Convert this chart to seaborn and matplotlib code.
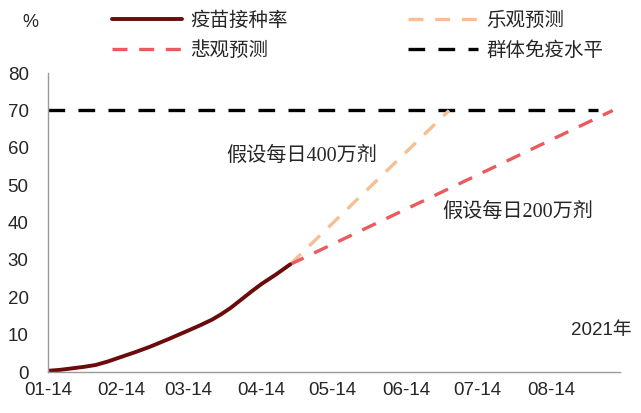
import pandas as pd
import matplotlib
matplotlib.use("Agg")
import matplotlib.pyplot as plt
import matplotlib.dates as mdates
import seaborn as sns

sns.set_style("white")
plt.rcParams['font.family'] = ['Liberation Sans', 'Noto Sans CJK SC', 'DejaVu Sans']

# 实际接种率 (%)
actual_dates = ["2021-01-14", "2021-01-19", "2021-01-24", "2021-01-29", "2021-02-03",
                "2021-02-08", "2021-02-14", "2021-02-20", "2021-02-26", "2021-03-06",
                "2021-03-14", "2021-03-19", "2021-03-24", "2021-03-28", "2021-04-01",
                "2021-04-05", "2021-04-10", "2021-04-14", "2021-04-20", "2021-04-26"]
actual_vals = [0.35, 0.6, 1.0, 1.4, 1.9,
               2.8, 4.1, 5.4, 6.8, 8.9,
               11.1, 12.5, 14.0, 15.5, 17.2,
               19.2, 21.7, 23.6, 26.1, 28.8]

# 预测
opt_dates = ["2021-04-26", "2021-07-02"]
opt_vals = [28.8, 70]
pes_dates = ["2021-04-26", "2021-09-09"]
pes_vals = [28.8, 70]
herd_dates = ["2021-01-14", "2021-09-03"]
herd_vals = [70, 70]

df_actual = pd.DataFrame({"date": pd.to_datetime(actual_dates), "rate": actual_vals})
df_opt = pd.DataFrame({"date": pd.to_datetime(opt_dates), "rate": opt_vals})
df_pes = pd.DataFrame({"date": pd.to_datetime(pes_dates), "rate": pes_vals})
df_herd = pd.DataFrame({"date": pd.to_datetime(herd_dates), "rate": herd_vals})

fig = plt.figure(figsize=(6.41, 4.13), dpi=100)
ax = fig.add_axes([0.075, 0.099, 0.892, 0.724])

sns.lineplot(data=df_herd, x="date", y="rate", ax=ax, color="black", linewidth=2.4,
             linestyle=(0, (5, 4)), label="群体免疫水平")
sns.lineplot(data=df_opt, x="date", y="rate", ax=ax, color="#f5bf93", linewidth=2.4,
             linestyle=(0, (4.5, 3.5)), label="乐观预测")
sns.lineplot(data=df_pes, x="date", y="rate", ax=ax, color="#ea5a5e", linewidth=2.4,
             linestyle=(0, (4.5, 3.5)), label="悲观预测")
sns.lineplot(data=df_actual, x="date", y="rate", ax=ax, color="#6b0b0b", linewidth=2.8,
             label="疫苗接种率")

ax.set_xlim(pd.Timestamp("2021-01-14"), pd.Timestamp("2021-09-12"))
ax.set_ylim(0, 80)
ax.set_yticks(range(0, 81, 10))
ax.xaxis.set_major_locator(mdates.MonthLocator(bymonthday=14))
ax.xaxis.set_major_formatter(mdates.DateFormatter("%m-%d"))
ax.set_xlabel("")
ax.set_ylabel("")

for s in ["top", "right"]:
    ax.spines[s].set_visible(False)
for s in ["left", "bottom"]:
    ax.spines[s].set_color("#9a9a9a")
    ax.spines[s].set_linewidth(1.0)
ax.tick_params(axis="x", direction="in", length=5, color="#9a9a9a", labelsize=13.5, pad=7)
ax.tick_params(axis="y", length=0, labelsize=13.5, pad=14)

ax.legend_.remove()
h, l = ax.get_legend_handles_labels()
order = [3, 2, 1, 0]
fig.legend([h[i] for i in order], [l[i] for i in order], ncol=2, frameon=False,
           loc="upper left", bbox_to_anchor=(0.148, 1.015), fontsize=14,
           handlelength=3.6, handletextpad=0.4, columnspacing=6.2, labelspacing=0.6)

fig.text(0.035, 0.945, "%", fontsize=13, ha="left", va="center")
serif = ['Liberation Serif', 'Noto Sans CJK SC']
ax.text(pd.Timestamp("2021-03-30"), 56.5, "假设每日400万剂", fontsize=14.5, family=serif)
ax.text(pd.Timestamp("2021-06-29"), 41.5, "假设每日200万剂", fontsize=14.5, family=serif)
fig.text(0.985, 0.2, "2021年", fontsize=13.5, ha="right", va="center")

fig.savefig("out.png", dpi=100)
